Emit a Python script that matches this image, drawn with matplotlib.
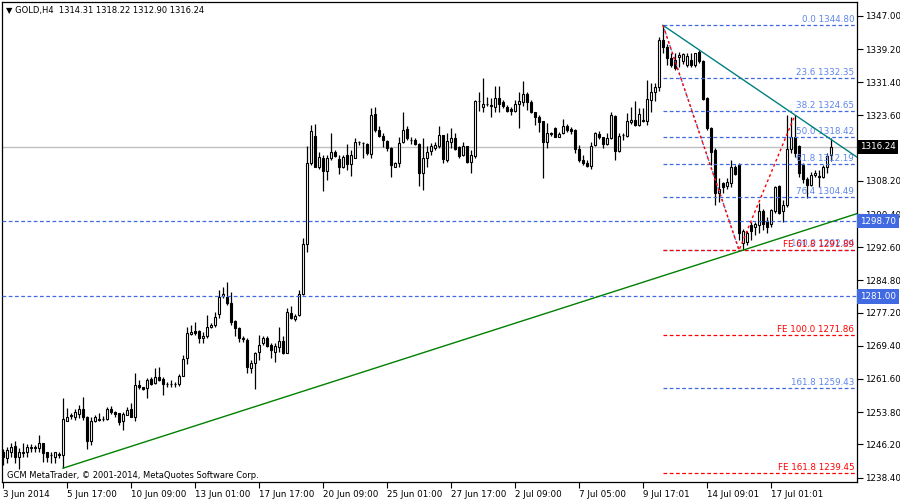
import matplotlib
matplotlib.use('Agg')
import matplotlib.pyplot as plt
import matplotlib.transforms as mtransforms
import numpy as np

# ---------------- data (GOLD, H4) ----------------
opens = [1244.5, 1242.9, 1244.5, 1245.8, 1243.3, 1244.2, 1244.3, 1245.4, 1245.5, 1245.4,
         1246.5, 1244.3, 1243.6, 1243.2, 1243.9, 1243.6, 1251.8, 1252.8, 1252.7, 1253.4,
         1254.5, 1252.7, 1246.9, 1251.6, 1252.0, 1252.1, 1252.2, 1254.5, 1253.9, 1253.5,
         1251.6, 1253.1, 1254.5, 1252.7, 1260.2, 1259.6, 1259.4, 1261.6, 1260.6, 1262.0,
         1261.6, 1260.4, 1260.3, 1260.4, 1260.3, 1262.4, 1266.5, 1272.2, 1272.9, 1272.9,
         1271.2, 1271.6, 1273.8, 1274.3, 1276.9, 1281.0, 1280.8, 1279.4, 1275.2, 1273.5,
         1271.2, 1270.8, 1264.1, 1265.3, 1267.9, 1270.0, 1271.2, 1269.6, 1267.9, 1269.2,
         1270.5, 1267.8, 1277.0, 1275.6, 1276.6, 1281.7, 1293.3, 1312.3, 1318.8, 1311.4,
         1313.7, 1310.5, 1313.5, 1315.1, 1313.4, 1311.4, 1314.2, 1312.2, 1313.7, 1317.3,
         1317.1, 1316.9, 1314.5, 1323.9, 1320.2, 1318.8, 1317.6, 1315.9, 1311.5, 1312.3,
         1317.3, 1320.3, 1317.9, 1317.8, 1316.9, 1310.0, 1313.7, 1315.3, 1316.0, 1316.3,
         1319.0, 1313.0, 1317.4, 1318.2, 1316.1, 1314.3, 1316.3, 1312.7, 1314.1, 1327.0,
         1325.7, 1326.2, 1326.0, 1325.7, 1327.6, 1326.8, 1325.5, 1325.0, 1324.7, 1326.4,
         1326.8, 1328.6, 1326.8, 1324.3, 1323.3, 1322.3, 1317.4, 1319.4, 1320.6, 1318.6,
         1319.4, 1321.1, 1320.3, 1320.2, 1315.6, 1313.1, 1312.5, 1311.8, 1316.6, 1319.2,
         1318.5, 1316.9, 1318.2, 1323.5, 1315.3, 1319.0, 1318.8, 1322.1, 1322.5, 1321.4,
         1322.4, 1322.4, 1327.3, 1329.0, 1330.4, 1341.4, 1339.8, 1337.0, 1336.6, 1337.4,
         1336.3, 1335.5, 1336.6, 1335.5, 1338.6, 1336.3, 1327.8, 1320.6, 1315.5, 1305.4,
         1307.6, 1307.0, 1307.6, 1311.5, 1311.9, 1293.7, 1293.9, 1297.8, 1297.4, 1297.8,
         1301.2, 1298.8, 1298.1, 1301.2, 1307.0, 1301.0, 1302.5, 1315.6, 1318.6, 1316.3,
         1311.9, 1308.6, 1307.2, 1309.6, 1309.3, 1309.2, 1311.4, 1314.31]
highs = [1245.0, 1245.7, 1246.6, 1246.9, 1245.3, 1246.5, 1246.3, 1246.3, 1246.1, 1248.4,
         1246.6, 1244.5, 1244.3, 1244.5, 1244.3, 1257.2, 1254.8, 1253.5, 1254.5, 1255.5,
         1257.3, 1252.9, 1252.7, 1253.0, 1253.5, 1252.9, 1255.1, 1255.2, 1254.1, 1253.7,
         1253.9, 1254.9, 1255.9, 1262.9, 1261.4, 1259.8, 1261.8, 1262.0, 1264.1, 1264.5,
         1262.0, 1260.8, 1261.4, 1260.8, 1262.8, 1267.2, 1273.9, 1274.3, 1275.1, 1273.0,
         1272.7, 1276.7, 1274.7, 1277.4, 1282.5, 1283.3, 1284.5, 1282.1, 1275.5, 1273.9,
         1271.6, 1271.2, 1266.1, 1268.0, 1271.9, 1271.6, 1271.6, 1270.0, 1270.0, 1273.9,
         1271.6, 1278.2, 1278.8, 1276.9, 1282.5, 1294.7, 1316.4, 1321.4, 1321.6, 1315.1,
         1314.3, 1314.3, 1319.4, 1315.5, 1314.3, 1314.3, 1316.8, 1315.5, 1318.2, 1317.6,
         1317.4, 1317.0, 1325.3, 1325.5, 1321.0, 1319.4, 1317.8, 1316.1, 1312.7, 1318.6,
         1324.3, 1321.0, 1318.6, 1318.2, 1317.0, 1318.2, 1316.3, 1317.2, 1317.4, 1321.1,
         1319.1, 1319.4, 1320.6, 1319.4, 1316.3, 1317.4, 1316.4, 1315.5, 1327.2, 1329.2,
         1332.3, 1328.0, 1327.6, 1330.5, 1330.5, 1327.2, 1326.1, 1325.5, 1327.2, 1329.0,
         1331.7, 1329.0, 1327.2, 1324.5, 1323.7, 1322.4, 1321.9, 1319.8, 1320.8, 1319.8,
         1322.7, 1321.6, 1320.8, 1320.3, 1316.6, 1314.3, 1313.1, 1317.4, 1319.8, 1319.9,
         1318.6, 1319.4, 1324.5, 1323.7, 1319.4, 1319.4, 1324.1, 1325.5, 1327.1, 1325.3,
         1325.3, 1331.9, 1331.2, 1331.2, 1342.0, 1344.8, 1340.4, 1338.2, 1338.2, 1338.6,
         1338.4, 1338.2, 1338.2, 1338.4, 1339.0, 1336.6, 1328.0, 1320.8, 1315.9, 1308.8,
         1308.0, 1308.8, 1313.1, 1311.9, 1312.3, 1296.8, 1296.5, 1298.6, 1298.6, 1303.1,
         1301.5, 1299.8, 1301.7, 1307.1, 1307.2, 1303.7, 1323.7, 1323.2, 1323.7, 1316.6,
         1312.3, 1309.2, 1310.4, 1310.8, 1310.8, 1311.9, 1314.7, 1318.22]
lows = [1241.4, 1241.8, 1243.3, 1241.8, 1240.3, 1243.3, 1243.3, 1244.3, 1244.3, 1244.5,
        1242.1, 1242.1, 1241.9, 1241.8, 1242.9, 1240.6, 1251.6, 1252.1, 1251.9, 1252.3,
        1251.9, 1245.1, 1246.1, 1251.4, 1251.6, 1251.6, 1251.9, 1253.4, 1252.7, 1250.8,
        1249.6, 1253.0, 1252.6, 1251.6, 1259.2, 1258.9, 1257.2, 1260.2, 1260.4, 1261.0,
        1257.8, 1259.6, 1259.8, 1259.6, 1259.9, 1262.3, 1265.0, 1271.9, 1271.9, 1270.1,
        1270.1, 1271.2, 1273.5, 1273.9, 1275.9, 1280.6, 1279.0, 1274.3, 1271.6, 1270.4,
        1270.4, 1262.9, 1263.1, 1259.2, 1266.1, 1269.6, 1269.2, 1266.5, 1265.7, 1268.0,
        1267.5, 1267.6, 1275.6, 1275.3, 1276.3, 1281.4, 1291.5, 1311.9, 1311.4, 1310.9,
        1305.9, 1308.3, 1313.1, 1313.9, 1309.8, 1311.2, 1310.8, 1309.4, 1313.5, 1316.7,
        1313.5, 1314.3, 1313.7, 1319.8, 1318.6, 1316.1, 1315.2, 1309.2, 1311.4, 1311.4,
        1317.0, 1317.8, 1316.9, 1316.6, 1307.0, 1306.1, 1311.5, 1314.3, 1315.5, 1315.9,
        1312.3, 1312.7, 1315.9, 1315.5, 1313.7, 1314.1, 1312.3, 1310.0, 1313.7, 1324.7,
        1324.5, 1325.8, 1323.3, 1324.3, 1324.3, 1325.3, 1324.3, 1323.7, 1324.3, 1320.7,
        1325.8, 1324.9, 1324.1, 1321.4, 1319.8, 1308.8, 1315.9, 1318.8, 1318.5, 1318.5,
        1319.2, 1319.8, 1319.2, 1314.8, 1312.7, 1311.9, 1311.5, 1310.9, 1316.4, 1318.1,
        1315.9, 1316.6, 1318.1, 1313.1, 1315.1, 1317.8, 1318.6, 1321.7, 1321.1, 1321.1,
        1322.1, 1321.4, 1324.5, 1327.0, 1329.4, 1338.2, 1335.5, 1335.1, 1334.4, 1335.1,
        1335.7, 1335.1, 1335.1, 1335.1, 1336.0, 1327.2, 1320.2, 1311.9, 1302.5, 1303.3,
        1305.3, 1306.4, 1306.8, 1309.6, 1294.3, 1291.9, 1293.1, 1294.3, 1295.5, 1295.9,
        1296.6, 1295.9, 1297.4, 1300.6, 1300.4, 1298.6, 1302.1, 1314.7, 1313.9, 1309.2,
        1307.6, 1304.1, 1307.0, 1309.2, 1306.8, 1308.8, 1310.0, 1312.90]
closes = [1243.3, 1244.9, 1245.5, 1243.3, 1244.3, 1244.4, 1245.7, 1245.6, 1245.4, 1246.5,
          1244.1, 1243.2, 1243.8, 1244.3, 1243.6, 1252.1, 1252.7, 1253.0, 1253.8, 1254.5,
          1252.7, 1247.1, 1251.7, 1252.6, 1252.2, 1252.2, 1254.5, 1253.9, 1253.4, 1251.5,
          1253.4, 1254.3, 1252.7, 1260.2, 1259.6, 1259.2, 1261.4, 1260.4, 1262.0, 1261.4,
          1260.4, 1260.3, 1260.4, 1260.3, 1262.4, 1266.2, 1272.3, 1272.7, 1272.3, 1271.3,
          1271.7, 1273.8, 1274.3, 1276.1, 1280.8, 1281.6, 1279.4, 1275.1, 1273.5, 1271.2,
          1271.1, 1264.3, 1265.3, 1267.6, 1269.6, 1271.2, 1269.4, 1268.3, 1269.4, 1270.5,
          1267.6, 1277.4, 1276.0, 1276.5, 1281.7, 1293.3, 1312.3, 1320.0, 1311.5, 1313.9,
          1310.6, 1313.5, 1314.9, 1314.1, 1311.4, 1313.9, 1312.2, 1314.2, 1317.3, 1317.4,
          1317.0, 1314.7, 1323.6, 1320.2, 1318.8, 1317.8, 1315.9, 1311.9, 1312.3, 1317.2,
          1320.2, 1318.2, 1317.8, 1316.8, 1310.0, 1313.7, 1315.1, 1316.3, 1316.6, 1319.0,
          1313.3, 1317.7, 1318.2, 1315.6, 1314.1, 1316.3, 1312.7, 1314.3, 1327.0, 1327.1,
          1326.2, 1326.3, 1325.8, 1327.6, 1326.4, 1325.8, 1324.7, 1324.7, 1326.4, 1327.0,
          1328.6, 1326.8, 1324.3, 1323.2, 1322.1, 1317.4, 1319.4, 1319.3, 1318.6, 1319.3,
          1321.0, 1320.2, 1320.0, 1315.6, 1313.1, 1312.5, 1311.8, 1316.5, 1319.4, 1318.5,
          1316.9, 1318.2, 1323.7, 1315.3, 1318.8, 1319.1, 1322.3, 1322.5, 1321.4, 1323.9,
          1322.6, 1327.5, 1329.0, 1330.4, 1341.4, 1339.8, 1337.0, 1335.5, 1334.7, 1337.8,
          1338.0, 1337.6, 1335.5, 1338.2, 1336.3, 1327.5, 1320.6, 1315.1, 1305.4, 1306.4,
          1306.8, 1307.9, 1311.5, 1309.8, 1295.9, 1296.3, 1295.9, 1296.3, 1298.0, 1301.2,
          1298.1, 1297.4, 1301.4, 1306.8, 1300.7, 1302.5, 1315.6, 1318.6, 1314.7, 1310.0,
          1308.6, 1307.2, 1309.6, 1310.1, 1309.2, 1311.5, 1314.1, 1316.24]

x_tick_bars = [0, 16, 32, 48, 64, 80, 96, 112, 128, 144, 160, 176, 192]
x_tick_labels = ['3 Jun 2014', '5 Jun 17:00', '10 Jun 09:00', '13 Jun 01:00',
                 '17 Jun 17:00', '20 Jun 09:00', '25 Jun 01:00', '27 Jun 17:00',
                 '2 Jul 09:00', '7 Jul 05:00', '9 Jul 17:01', '14 Jul 09:01',
                 '17 Jul 01:01']
y_ticks = [1347.00, 1339.20, 1331.40, 1323.60, 1308.20, 1300.40, 1292.60,
           1284.80, 1277.20, 1269.40, 1261.60, 1253.80, 1246.20, 1238.40]

fib_levels = [0.0, 23.6, 38.2, 50.0, 61.8, 76.4, 100.0, 161.8]
fib_prices = [1344.80, 1332.35, 1324.65, 1318.42, 1312.19, 1304.49, 1292.04, 1259.43]
fe_levels = [61.8, 100.0, 161.8]
fe_prices = [1291.89, 1271.86, 1239.45]
fib_anchor_bar = 165

h_levels = [1298.70, 1281.00]
last_price = 1316.24

green_line = ([15, 185], [1240.6, 1291.9])
teal_line = ([165, 198], [1344.8, 1323.7])
fe_path = ([165, 184, 198], [1344.8, 1291.9, 1323.7])
fib_path = ([165, 184], [1344.8, 1292.04])

title = '\u25BC GOLD,H4  1314.31 1318.22 1312.90 1316.24'
copyright_text = 'GCM MetaTrader, \u00A9 2001-2014, MetaQuotes Software Corp.'

# ---------------- style ----------------
plt.rcParams['font.family'] = ['DejaVu Sans']
FS = 6.3
BLUE_LINE = '#4169E1'
BLUE_TEXT = '#5F86EE'
RED = '#FF0000'

fig = plt.figure(figsize=(9, 5), dpi=100)
fig.patch.set_facecolor('white')
ax = fig.add_axes([2 / 900, 18 / 500, 855 / 900, 480 / 500])
ax.set_facecolor('white')

XMIN, XMAX = -0.25, 213.5
ax.set_xlim(XMIN, XMAX)
ax.set_ylim(1237.35, 1350.29)

o = np.array(opens); h = np.array(highs); l = np.array(lows); c = np.array(closes)
idx = np.arange(len(o))

# last price line
ax.axhline(last_price, color='#C0C0C0', lw=1.0, zorder=1)

# candles
ax.vlines(idx, l, h, color='black', lw=0.9, zorder=3)
bottoms = np.minimum(o, c)
heights = np.abs(c - o)
face = ['white' if cc >= oo else 'black' for oo, cc in zip(o, c)]
ax.bar(idx, heights, bottom=bottoms, width=0.7, color=face, edgecolor='black',
       linewidth=0.8, zorder=4)

# horizontal blue lines
for p in h_levels:
    ax.axhline(p, color=BLUE_LINE, lw=0.9, ls=(0, (3, 2)), zorder=5)

# fibo retracement / expansion levels
ax.hlines(fib_prices, fib_anchor_bar, XMAX, color=BLUE_LINE, lw=0.9,
          linestyles=[(0, (3, 2))], zorder=5)
ax.hlines(fe_prices, fib_anchor_bar, XMAX, color=RED, lw=0.9,
          linestyles=[(0, (3, 2))], zorder=5)
for lv, p in zip(fib_levels, fib_prices):
    ax.annotate(f'{lv:.1f} {p:.2f}', xy=(XMAX, p), xytext=(-2, 0.8),
                textcoords='offset points', ha='right', va='bottom',
                fontsize=FS, color=BLUE_TEXT, zorder=6)
for lv, p in zip(fe_levels, fe_prices):
    ax.annotate(f'FE {lv:.1f} {p:.2f}', xy=(XMAX, p), xytext=(-2, 0.8),
                textcoords='offset points', ha='right', va='bottom',
                fontsize=FS, color=RED, zorder=6)

# trend lines (rays to the right)
def ray(xs, ys):
    slope = (ys[1] - ys[0]) / (xs[1] - xs[0])
    return [xs[0], XMAX], [ys[0], ys[0] + slope * (XMAX - xs[0])]

gx, gy = ray(*green_line)
ax.plot(gx, gy, color='#008000', lw=1.0, zorder=6)
tx, ty = ray(*teal_line)
ax.plot(tx, ty, color='#008080', lw=1.0, zorder=6)
ax.plot(*fib_path, color=BLUE_LINE, lw=1.0, ls=(0, (1, 2)), zorder=6)
ax.plot(*fe_path, color=RED, lw=1.0, ls=(0, (2, 2)), zorder=6)

# axes styling
for s in ax.spines.values():
    s.set_color('black')
    s.set_linewidth(0.9)
ax.yaxis.tick_right()
ax.set_yticks(y_ticks)
ax.set_yticklabels([f'{v:.2f}' for v in y_ticks])
ax.tick_params(axis='y', direction='out', length=4, width=0.8, pad=2,
               labelsize=FS, colors='black')
ax.set_xticks(x_tick_bars)
ax.set_xticklabels(x_tick_labels)
for t in ax.get_xticklabels():
    t.set_horizontalalignment('left')
ax.tick_params(axis='x', direction='out', length=4, width=0.8, pad=2,
               labelsize=FS, colors='black')

# price boxes on the right
bt = mtransforms.blended_transform_factory(ax.transAxes, ax.transData)
ax.text(1.0 + 3 / 855, last_price, f'{last_price:.2f}', transform=bt, ha='left',
        va='center', fontsize=FS, color='white', zorder=20, clip_on=False,
        bbox=dict(boxstyle='square,pad=0.3', fc='black', ec='none'))
for p in h_levels:
    ax.text(1.0 + 3 / 855, p, f'{p:.2f}', transform=bt, ha='left', va='center',
            fontsize=FS, color='white', zorder=20, clip_on=False,
            bbox=dict(boxstyle='square,pad=0.3', fc=BLUE_LINE, ec='none'))

# texts
fig.text(6 / 900, 1 - 10 / 500, title, ha='left', va='center', fontsize=6.0,
         color='black')
ax.text(5 / 855, 7 / 480, copyright_text, transform=ax.transAxes, ha='left',
        va='center', fontsize=6.0, color='black', zorder=7)

fig.savefig('out.png', dpi=100, facecolor='white')
